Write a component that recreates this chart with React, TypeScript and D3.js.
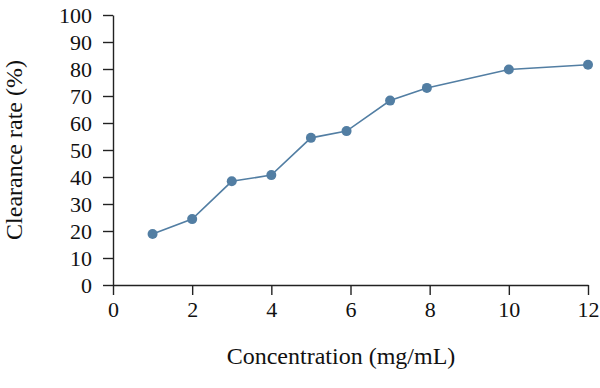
import React, { useRef, useEffect } from 'react';
import * as d3 from 'd3';

const concentration = [1, 2, 3, 4, 5, 5.9, 7, 7.93, 10, 12];
const clearance = [18.9, 24.4, 38.4, 40.7, 54.5, 57, 68.3, 73, 79.8, 81.6];
const xTicks = [0, 2, 4, 6, 8, 10, 12];
const yTicks = [0, 10, 20, 30, 40, 50, 60, 70, 80, 90, 100];

const App = () => {
  const ref = useRef<SVGSVGElement>(null);

  useEffect(() => {
    if (!ref.current) return;
    const width = 600;
    const height = 388;
    const margin = { top: 15, right: 12, bottom: 103, left: 113 };
    const innerW = width - margin.left - margin.right;
    const innerH = height - margin.top - margin.bottom;
    const color = '#527ea3';
    const font = '"Liberation Serif", "DejaVu Serif", serif';

    const svg = d3.select(ref.current);
    svg.selectAll('*').remove();
    svg.attr('width', width).attr('height', height);

    const g = svg.append('g')
      .attr('transform', `translate(${margin.left},${margin.top})`);

    const x = d3.scaleLinear().domain([0, 12]).range([0, innerW]);
    const y = d3.scaleLinear().domain([0, 100]).range([innerH, 0]);

    // X axis
    const xAxis = g.append('g')
      .attr('transform', `translate(0,${innerH})`)
      .call(d3.axisBottom(x).tickValues(xTicks).tickSize(10).tickSizeOuter(0).tickPadding(6));
    xAxis.selectAll('text')
      .attr('font-family', font)
      .attr('font-size', 22)
      .attr('fill', '#111');

    // Y axis
    const yAxis = g.append('g')
      .call(d3.axisLeft(y).tickValues(yTicks).tickSize(10).tickSizeOuter(0).tickPadding(11));
    yAxis.selectAll('text')
      .attr('font-family', font)
      .attr('font-size', 22)
      .attr('fill', '#111');

    g.selectAll('.domain, .tick line')
      .attr('stroke', '#222')
      .attr('stroke-width', 1.4);

    const data = concentration.map((c, i) => ({ c, v: clearance[i] }));

    // Line
    const line = d3.line<{ c: number; v: number }>()
      .x(d => x(d.c))
      .y(d => y(d.v));

    g.append('path')
      .datum(data)
      .attr('d', line)
      .attr('fill', 'none')
      .attr('stroke', color)
      .attr('stroke-width', 1.6);

    // Points
    g.selectAll('circle')
      .data(data)
      .enter()
      .append('circle')
      .attr('cx', d => x(d.c))
      .attr('cy', d => y(d.v))
      .attr('r', 5)
      .attr('fill', color);

    // X axis label
    svg.append('text')
      .attr('text-anchor', 'middle')
      .attr('x', 341)
      .attr('y', 364)
      .attr('font-family', font)
      .attr('font-size', 24)
      .attr('fill', '#111')
      .text('Concentration (mg/mL)');

    // Y axis label
    svg.append('text')
      .attr('text-anchor', 'middle')
      .attr('transform', 'rotate(-90)')
      .attr('x', -(margin.top + innerH / 2))
      .attr('y', 22)
      .attr('font-family', font)
      .attr('font-size', 24)
      .attr('fill', '#111')
      .text('Clearance rate (%)');
  }, []);

  return <svg ref={ref} style={{ position: 'absolute', left: 0, top: 0 }} />;
};

export default App;
